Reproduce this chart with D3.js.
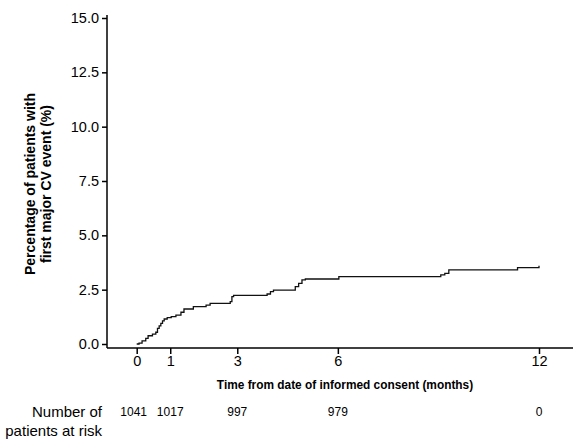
<!DOCTYPE html>
<html>
<head>
<meta charset="utf-8">
<script src="https://cdn.jsdelivr.net/npm/d3@7"></script>
<style>
  body { margin: 0; background: #fff; }
  svg { display: block; font-family: Arial, "Liberation Sans", sans-serif; }
</style>
</head>
<body>
<div class="chart-wrapper"></div>
<script>
// step points of the cumulative curve: months, percent
const months = [0, 0.07, 0.16, 0.27, 0.34, 0.47, 0.57, 0.62, 0.67, 0.72, 0.77, 0.82, 0.91, 1.03, 1.17, 1.32, 1.41, 1.69, 2.07, 2.19, 2.79, 2.84, 2.89, 3.89, 3.99, 4.08, 4.73, 4.83, 4.93, 5.03, 6.03, 9.07, 9.19, 9.31, 11.36, 12.0]
const pct    = [0, 0.04, 0.14, 0.26, 0.38, 0.45, 0.54, 0.72, 0.83, 0.95, 1.06, 1.15, 1.21, 1.26, 1.33, 1.46, 1.61, 1.72, 1.79, 1.87, 1.95, 2.18, 2.24, 2.30, 2.41, 2.48, 2.64, 2.79, 2.95, 2.99, 3.10, 3.18, 3.25, 3.41, 3.51, 3.60]

const yTicks = [0, 2.5, 5, 7.5, 10, 12.5, 15]
const xTicks = [0, 1, 3, 6, 12]
const atRisk = [1041, 1017, 997, 979, 0]

const width = 574, height = 440
const font = 'Arial, "Liberation Sans", sans-serif'

const x = d3.scaleLinear().domain([0, 12]).range([136.7, 539])
const y = d3.scaleLinear().domain([0, 15]).range([344, 18])

const svg = d3.select('.chart-wrapper')
.append('svg')
.attr('width', width)
.attr('height', height)

// axes lines
svg.append('line')
.attr('x1', 107).attr('x2', 107)
.attr('y1', 15).attr('y2', 348)
.attr('stroke', '#000').attr('stroke-width', 1.5)

svg.append('line')
.attr('x1', 107).attr('x2', 573)
.attr('y1', 348).attr('y2', 348)
.attr('stroke', '#000').attr('stroke-width', 1.5)

const yAxis = svg.append('g')
.attr('transform', 'translate(107,0)')
.call(d3.axisLeft(y).tickValues(yTicks).tickSize(5).tickPadding(3).tickFormat(d3.format('.1f')))

yAxis.select('.domain').remove()
yAxis.selectAll('line').attr('stroke-width', 1.5)
yAxis.selectAll('text').attr('font-size', 14.5).attr('font-family', font).attr('fill', '#000')

const xAxis = svg.append('g')
.attr('transform', 'translate(0,348)')
.call(d3.axisBottom(x).tickValues(xTicks).tickSize(6).tickPadding(2).tickFormat(d3.format('d')))

xAxis.select('.domain').remove()
xAxis.selectAll('line').attr('stroke-width', 1.5)
xAxis.selectAll('text').attr('font-size', 14.5).attr('font-family', font).attr('fill', '#000')

// curve
const line = d3.line()
.x(d => x(d[0]))
.y(d => y(d[1]))
.curve(d3.curveStepAfter)

svg.append('path')
.datum(months.map((m, i) => [m, pct[i]]))
.attr('d', line)
.attr('fill', 'none')
.attr('stroke', '#111')
.attr('stroke-width', 1.3)

// titles (x title looks condensed in the original)
svg.append('text')
.attr('transform', 'translate(345,389) scale(0.88,1)')
.attr('text-anchor', 'middle')
.attr('font-size', 13.5).attr('font-weight', 'bold')
.text('Time from date of informed consent (months)')

const yt = svg.append('text')
.attr('transform', 'translate(0,184) rotate(-90)')
.attr('text-anchor', 'middle')
.attr('font-size', 14).attr('font-weight', 'bold')

yt.append('tspan').attr('x', 0).attr('y', 35).text('Percentage of patients with')
yt.append('tspan').attr('x', 0).attr('y', 51).text('first major CV event (%)')

// number at risk
svg.append('text')
.attr('x', 102).attr('y', 417)
.attr('text-anchor', 'end')
.attr('font-size', 15)
.text('Number of')

svg.append('text')
.attr('x', 102).attr('y', 436)
.attr('text-anchor', 'end')
.attr('font-size', 15)
.text('patients at risk')

svg.selectAll('.risk')
.data(atRisk)
.enter()
.append('text')
.attr('class', 'risk')
.attr('x', (d, i) => x(xTicks[i]) - (i === 0 ? 3 : 0))
.attr('y', 416)
.attr('text-anchor', 'middle')
.attr('font-size', 12)
.text(d => d)
</script>
</body>
</html>
